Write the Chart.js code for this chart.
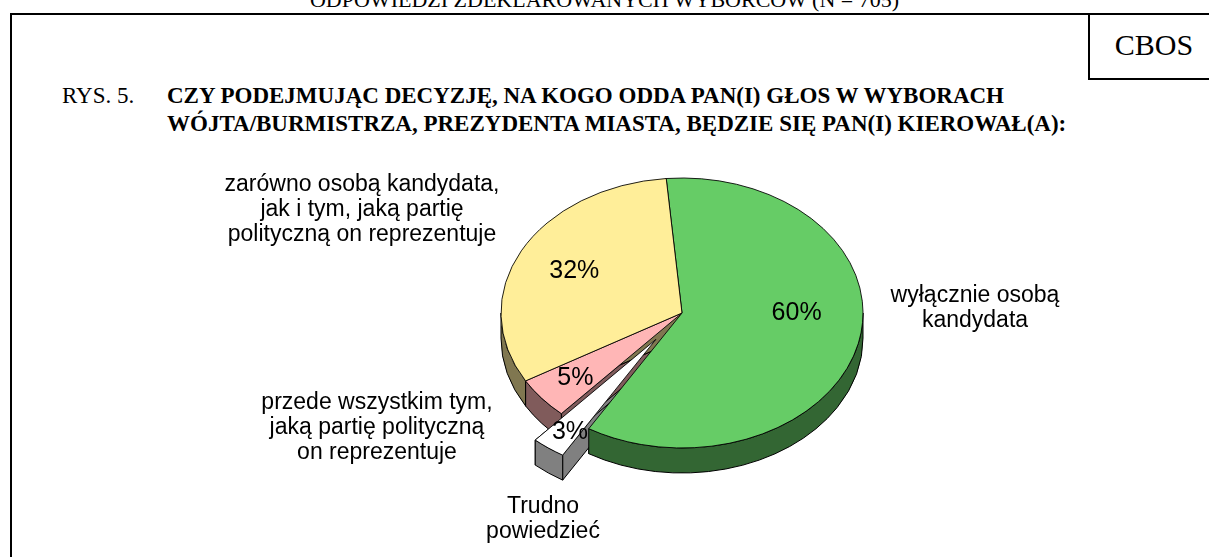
<!DOCTYPE html>
<html><head><meta charset="utf-8">
<script src="https://cdn.jsdelivr.net/npm/chart.js@4"></script>
<style>
html,body{margin:0;padding:0;background:#fff;}
body{width:1209px;height:557px;overflow:hidden;position:relative;}
#c{position:absolute;left:0;top:0;}
.frame{position:absolute;left:10px;top:13px;width:1400px;height:700px;border:2px solid #000;box-sizing:border-box;}
.cbos{position:absolute;left:1088px;top:13px;width:200px;height:67px;border:2px solid #000;box-sizing:border-box;background:#fff;}
.cbosTxt{position:absolute;left:1089px;width:130px;top:30px;text-align:center;font:30px/30px "Liberation Serif","Times New Roman",serif;color:#000;}
.t{position:absolute;font-family:"Liberation Serif","Times New Roman",serif;font-size:23px;line-height:28px;color:#000;white-space:nowrap;}
.top{position:absolute;left:0;width:1209px;text-align:center;top:-11px;font:22px/22px "Liberation Serif","Times New Roman",serif;color:#000;white-space:nowrap;}
</style></head><body>
<div class="top">ODPOWIEDZI ZDEKLAROWANYCH WYBORCÓW (N = 705)</div>
<div class="frame"></div>
<div class="cbos"></div>
<div class="cbosTxt">CBOS</div>
<div class="t" style="left:62px;top:82px;">RYS. 5.</div>
<div class="t" style="left:167px;top:82px;font-weight:bold;">CZY PODEJMUJĄC DECYZJĘ, NA KOGO ODDA PAN(I) GŁOS W WYBORACH<br>WÓJTA/BURMISTRZA, PREZYDENTA MIASTA, BĘDZIE SIĘ PAN(I) KIEROWAŁ(A):</div>
<canvas id="c" width="1209" height="557"></canvas>
<script>
// ---- data ----
const categories = ['wyłącznie osobą kandydata', 'Trudno powiedzieć', 'przede wszystkim tym, jaką partię polityczną on reprezentuje', 'zarówno osobą kandydata, jak i tym, jaką partię polityczną on reprezentuje'];
const values = [60, 3, 5, 32];
const percentLabels = ['60%', '3%', '5%', '32%'];
const categoryLines = [
  ['wyłącznie osobą', 'kandydata'],
  ['Trudno', 'powiedzieć'],
  ['przede wszystkim tym,', 'jaką partię polityczną', 'on reprezentuje'],
  ['zarówno osobą kandydata,', 'jak i tym, jaką partię', 'polityczną on reprezentuje']
];

// ---- styles ----
const topColors = ['#66CC66', '#FFFFFF', '#FFB6B6', '#FFEE99'];
const sideColors = ['#336633', '#808080', '#805B5B', '#807750'];
const explode = [0, 44, 0, 0];
const pctRadius = [0.65, 0.8, 0.76, 0.67];
const pctDy = [-20, 6, 0, 0];
const catPos = [[975, 296], [543, 507], [377, 403], [362, 185]];
const catLineH = 25;
const flatten = 135 / 181;
const depth = 25;

const pie3d = {
  id: 'pie3d',
  afterUpdate(chart) {
    const meta = chart.getDatasetMeta(0);
    meta.data.forEach((arc, i) => {
      if (explode[i]) {
        const mid = (arc.startAngle + arc.endAngle) / 2;
        arc.x += Math.cos(mid) * explode[i];
        arc.y += Math.sin(mid) * explode[i];
      }
    });
  },
  beforeDatasetsDraw(chart) {
    const ctx = chart.ctx;
    const a = chart.chartArea;
    const CY = (a.top + a.bottom) / 2;
    const k = flatten;
    const meta = chart.getDatasetMeta(0);
    const S = (x, y) => [x, CY + (y - CY) * k];
    ctx.save();
    ctx.lineWidth = 1;
    ctx.strokeStyle = '#000';
    ctx.lineJoin = 'round';
    // radial walls
    meta.data.forEach((arc, i) => {
      const R = arc.outerRadius;
      [arc.startAngle, arc.endAngle].forEach(ang => {
        const c = S(arc.x, arc.y);
        const e = S(arc.x + R * Math.cos(ang), arc.y + R * Math.sin(ang));
        ctx.beginPath();
        ctx.moveTo(c[0], c[1]);
        ctx.lineTo(e[0], e[1]);
        ctx.lineTo(e[0], e[1] + depth);
        ctx.lineTo(c[0], c[1] + depth);
        ctx.closePath();
        ctx.fillStyle = sideColors[i];
        ctx.fill();
        ctx.stroke();
      });
    });
    // outer sides
    meta.data.forEach((arc, i) => {
      const R = arc.outerRadius;
      const c = S(arc.x, arc.y);
      for (let m = -1; m <= 1; m++) {
        const lo = Math.max(arc.startAngle, 2 * Math.PI * m);
        const hi = Math.min(arc.endAngle, Math.PI + 2 * Math.PI * m);
        if (hi > lo) {
          ctx.beginPath();
          ctx.ellipse(c[0], c[1], R, R * k, 0, lo, hi, false);
          ctx.ellipse(c[0], c[1] + depth, R, R * k, 0, hi, lo, true);
          ctx.closePath();
          ctx.fillStyle = sideColors[i];
          ctx.fill();
          ctx.stroke();
        }
      }
    });
    ctx.restore();
    ctx.save();
    ctx.translate(0, CY);
    ctx.scale(1, k);
    ctx.translate(0, -CY);
  },
  afterDatasetsDraw(chart) {
    const ctx = chart.ctx;
    ctx.restore();
    const a = chart.chartArea;
    const CY = (a.top + a.bottom) / 2;
    const k = flatten;
    const meta = chart.getDatasetMeta(0);
    ctx.save();
    ctx.fillStyle = '#000';
    ctx.textAlign = 'center';
    ctx.textBaseline = 'middle';
    ctx.font = '25px "Liberation Sans", Arial, sans-serif';
    meta.data.forEach((arc, i) => {
      const mid = (arc.startAngle + arc.endAngle) / 2;
      const R = arc.outerRadius * pctRadius[i];
      const x = arc.x + R * Math.cos(mid);
      const y = CY + (arc.y + R * Math.sin(mid) - CY) * k + pctDy[i];
      ctx.fillText(percentLabels[i], x, y);
    });
    ctx.font = '23px "Liberation Sans", Arial, sans-serif';
    categoryLines.forEach((lines, i) => {
      lines.forEach((ln, j) => ctx.fillText(ln, catPos[i][0], catPos[i][1] + j * catLineH));
    });
    ctx.restore();
  }
};

new Chart(document.getElementById('c'), {
  type: 'pie',
  data: {
    labels: categories,
    datasets: [{
      data: values,
      backgroundColor: topColors,
      borderColor: '#000',
      borderWidth: 1,
      clip: false
    }]
  },
  options: {
    responsive: false,
    animation: false,
    events: [],
    rotation: -5,
    radius: 181,
    layout: { padding: { left: 482, right: 327, top: 113, bottom: 44 } },
    plugins: { legend: { display: false }, tooltip: { enabled: false } }
  },
  plugins: [pie3d]
});
</script>
</body></html>
